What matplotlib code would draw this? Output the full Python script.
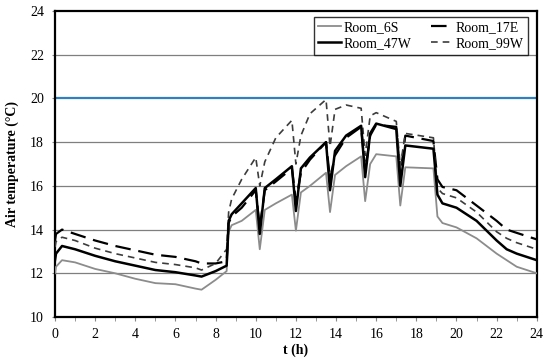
import matplotlib
matplotlib.use("Agg")
import matplotlib.pyplot as plt
from matplotlib.ticker import MultipleLocator

plt.rcParams['font.family'] = ['Liberation Serif', 'DejaVu Serif']

t = [0, 0.05, 0.35, 1, 2, 3, 4, 5, 6, 7, 7.3, 8, 8.55, 8.65, 8.8, 9.3, 10.0, 10.2, 10.45,
     11.0, 11.8, 12.0, 12.25, 12.7, 13.5, 13.7, 13.95, 14.5, 15.25, 15.45, 15.7, 16.0,
     17.0, 17.2, 17.45, 18.85, 19.05, 19.3, 20, 21, 22, 22.5, 23, 24]

room_6s = [12.0, 12.3, 12.6, 12.5, 12.2, 12.0, 11.75, 11.55, 11.5, 11.3, 11.25, 11.7, 12.1,
           13.9, 14.2, 14.4, 14.9, 13.1, 14.9, 15.2, 15.6, 13.95, 15.7, 16.0, 16.6, 14.8,
           16.5, 16.9, 17.35, 15.3, 17.0, 17.45, 17.35, 15.1, 16.85, 16.8, 14.6, 14.3,
           14.1, 13.6, 12.9, 12.6, 12.3, 12.0]

room_47w = [12.6, 12.9, 13.25, 13.1, 12.8, 12.55, 12.35, 12.15, 12.05, 11.9, 11.85, 12.1, 12.35,
            14.4, 14.7, 15.2, 15.9, 13.8, 15.9, 16.3, 16.9, 14.85, 16.8, 17.3, 18.0, 15.8,
            17.6, 18.3, 18.75, 16.4, 18.4, 18.85, 18.6, 16.0, 17.85, 17.7, 15.6, 15.2,
            15.0, 14.4, 13.5, 13.1, 12.9, 12.6]

room_17e = [13.5, 13.8, 14.0, 13.8, 13.5, 13.25, 13.05, 12.85, 12.75, 12.55, 12.45, 12.45, 12.55,
            14.3, 14.6, 15.0, 15.8, 14.1, 15.8, 16.2, 16.8, 15.3, 16.6, 17.2, 18.0, 16.3,
            17.4, 18.2, 18.7, 16.7, 18.3, 18.8, 18.7, 16.5, 18.3, 18.05, 16.3, 15.95,
            15.8, 15.1, 14.4, 14.0, 13.85, 13.55]

room_99w = [13.2, 13.45, 13.65, 13.5, 13.15, 12.9, 12.7, 12.5, 12.4, 12.25, 12.15, 12.45, 13.1,
            14.8, 15.4, 16.3, 17.3, 16.0, 17.1, 18.2, 19.0, 17.0, 18.3, 19.3, 19.95, 17.8,
            19.5, 19.7, 19.55, 17.4, 19.2, 19.35, 18.95, 16.9, 18.4, 18.2, 15.9, 15.65,
            15.45, 14.8, 13.9, 13.6, 13.4, 13.1]

limit_value = 20
grid_values = [12, 14, 16, 18, 22]

fig = plt.figure(figsize=(5.5, 3.6), dpi=100)
ax = fig.add_axes([0.1, 0.1194, 0.876, 0.8500])

for g in grid_values:
    ax.axhline(g, color='#7f7f7f', lw=0.9, zorder=1)
ax.axhline(limit_value, color='#2f7fc1', lw=1.6, zorder=1)

ax.plot(t, room_6s, color='#8c8c8c', lw=1.3, label='Room_6S', zorder=3)
ax.plot(t, room_17e, color='black', lw=1.6, dashes=(7, 3.5), label='Room_17E', zorder=4)
ax.plot(t, room_47w, color='black', lw=1.8, label='Room_47W', zorder=5)
ax.plot(t, room_99w, color='#3c3c3c', lw=1.2, dashes=(4, 3), label='Room_99W', zorder=4)

ax.set_xlim(0, 24)
ax.set_ylim(10, 24)
ax.xaxis.set_major_locator(MultipleLocator(2))
ax.xaxis.set_minor_locator(MultipleLocator(1))
ax.yaxis.set_major_locator(MultipleLocator(2))
ax.tick_params(axis='x', which='both', direction='out', length=3, color='#888888',
               labelsize=10, pad=5)
ax.tick_params(axis='y', which='both', direction='out', length=2, color='#888888',
               labelsize=10, pad=6)
for s in ax.spines.values():
    s.set_linewidth(1.6)
    s.set_color('black')

ax.set_xlabel('t (h)', fontsize=10, fontweight='bold', labelpad=2)
ax.set_ylabel('Air temperature (°C)', fontsize=10, fontweight='bold', labelpad=8)

h, l = ax.get_legend_handles_labels()
order = [0, 2, 1, 3]
leg = ax.legend([h[i] for i in order], [l[i] for i in order], ncol=2, loc='upper right',
                bbox_to_anchor=(0.99, 0.995), fontsize=10, frameon=True, fancybox=False,
                edgecolor='black', handlelength=1.6, handletextpad=0.2, columnspacing=1.4,
                borderpad=0.3, labelspacing=0.25, borderaxespad=0.3)
leg.get_frame().set_linewidth(1.0)

fig.savefig('out.png', dpi=100)
